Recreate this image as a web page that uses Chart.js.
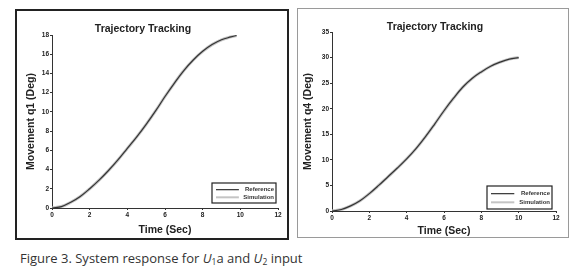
<!DOCTYPE html>
<html>
<head>
<meta charset="utf-8">
<script src="https://cdn.jsdelivr.net/npm/chart.js@4"></script>
<style>
    body { margin: 0; background: #fff; width: 575px; height: 272px; position: relative; overflow: hidden; }
    .panel { position: absolute; box-sizing: border-box; background: #fff; }
    #panelLeft { left: 15px; top: 9px; width: 274px; height: 231px; border: 2px solid #222; }
    #panelRight { left: 297px; top: 8px; width: 272px; height: 230px; border: 1px solid #9a9a9a; }
    canvas { display: block; }
    #caption {
        position: absolute; left: 20px; top: 249px; margin: 0;
        font-family: "Open Sans", sans-serif; font-size: 13px; color: #333; white-space: nowrap;
    }
    #caption sub { font-size: 8.5px; vertical-align: -2px; }
</style>
</head>
<body>
<div class="panel" id="panelLeft"><canvas id="chartQ1" width="270" height="227"></canvas></div>
<div class="panel" id="panelRight"><canvas id="chartQ4" width="270" height="228"></canvas></div>
<p id="caption">Figure 3. System response for <i>U</i><sub>1</sub>a and <i>U</i><sub>2</sub> input</p>

<script>
// Values
const timeQ1 = [0, 0.5, 1, 1.5, 2, 2.5, 3, 3.5, 4, 4.5, 5, 5.5, 6, 6.5, 7, 7.5, 8, 8.5, 9, 9.5, 9.8];
const q1Reference = [0, 0.15, 0.6, 1.2, 2.0, 2.9, 3.9, 5.0, 6.2, 7.4, 8.7, 10.1, 11.6, 13.0, 14.3, 15.4, 16.3, 17.0, 17.5, 17.8, 17.95];
const q1Simulation = [0, 0.15, 0.6, 1.2, 2.0, 2.9, 3.9, 5.0, 6.2, 7.4, 8.7, 10.1, 11.6, 13.0, 14.3, 15.4, 16.3, 17.0, 17.5, 17.8, 17.95];

const timeQ4 = [0, 0.5, 1, 1.5, 2, 2.5, 3, 3.5, 4, 4.5, 5, 5.5, 6, 6.5, 7, 7.5, 8, 8.5, 9, 9.5, 10];
const q4Reference = [0, 0.3, 1.0, 2.0, 3.4, 5.0, 6.7, 8.4, 10.2, 12.2, 14.5, 17.0, 19.6, 22.0, 24.2, 25.9, 27.2, 28.3, 29.1, 29.7, 30.0];
const q4Simulation = [0, 0.3, 1.0, 2.0, 3.4, 5.0, 6.7, 8.4, 10.2, 12.2, 14.5, 17.0, 19.6, 22.0, 24.2, 25.9, 27.2, 28.3, 29.1, 29.7, 30.0];

const seriesNames = ['Reference', 'Simulation'];
const timeTicks = [0, 2, 4, 6, 8, 10, 12];

function toPoints(xs, ys) {
    return xs.map((x, i) => ({ x: x, y: ys[i] }));
}

// title + inset legend drawn on the canvas, MATLAB style
const matlabDecor = {
    id: 'matlabDecor',
    afterDraw(chart, args, opts) {
        const {ctx, chartArea} = chart;
        ctx.save();
        ctx.fillStyle = '#222';
        ctx.font = 'bold 10.5px "Liberation Sans", Arial, sans-serif';
        ctx.textAlign = 'center';
        ctx.textBaseline = 'middle';
        ctx.fillText(opts.title, opts.titleX, opts.titleY);

        // legend box
        const w = opts.legendW, h = opts.legendH;
        const x0 = chartArea.right - opts.legendRight - w;
        const y0 = chartArea.bottom - opts.legendBottom - h;
        ctx.fillStyle = '#fff';
        ctx.fillRect(x0, y0, w, h);
        ctx.strokeStyle = '#222';
        ctx.lineWidth = 1.2;
        ctx.strokeRect(x0, y0, w, h);

        const rows = [
            { label: seriesNames[0], color: '#333', width: 1.2 },
            { label: seriesNames[1], color: '#c4c4c4', width: 2 }
        ];
        ctx.font = 'bold 6px "Liberation Sans", Arial, sans-serif';
        ctx.textAlign = 'right';
        rows.forEach((r, i) => {
            const yy = y0 + h * (i + 1) / 3 + (i === 0 ? 0 : 1);
            ctx.strokeStyle = r.color;
            ctx.lineWidth = r.width;
            ctx.beginPath();
            ctx.moveTo(x0 + 4, yy);
            ctx.lineTo(x0 + w * 0.42, yy);
            ctx.stroke();
            ctx.fillStyle = '#333';
            ctx.fillText(r.label, x0 + w - 2, yy);
        });
        ctx.restore();
    }
};

function makeChart(canvasId, times, refVals, simVals, yMax, yStep, yTitle, geo) {
    const ctx = document.getElementById(canvasId).getContext('2d');
    const tickFont = { family: '"Liberation Sans", Arial, sans-serif', size: 6.5, weight: 'bold' };
    const axisFont = { family: '"Liberation Sans", Arial, sans-serif', size: 10.5, weight: 'bold' };
    return new Chart(ctx, {
        type: 'line',
        data: {
            datasets: [
                {
                    label: seriesNames[0],
                    data: toPoints(times, refVals),
                    borderColor: '#333',
                    borderWidth: 1.2,
                    pointRadius: 0,
                    tension: 0.4,
                    order: 0
                },
                {
                    label: seriesNames[1],
                    data: toPoints(times, simVals),
                    borderColor: '#c4c4c4',
                    borderWidth: 3,
                    pointRadius: 0,
                    tension: 0.4,
                    order: 1
                }
            ]
        },
        options: {
            responsive: false,
            animation: false,
            layout: { padding: { top: geo.top, right: geo.right, left: 0, bottom: 0 } },
            plugins: {
                legend: { display: false },
                tooltip: { enabled: false },
                matlabDecor: geo.decor
            },
            scales: {
                x: {
                    type: 'linear',
                    min: 0,
                    max: 12,
                    afterBuildTicks: (axis) => { axis.ticks = timeTicks.map(v => ({ value: v })); },
                    afterFit: (axis) => { axis.height = geo.xHeight; },
                    grid: { display: true, drawOnChartArea: false, tickLength: 2, color: '#333' },
                    border: { display: true, color: '#333', width: 1 },
                    ticks: { font: tickFont, color: '#222', padding: 1, maxRotation: 0 },
                    title: { display: true, text: 'Time (Sec)', font: axisFont, color: '#222', padding: { top: 0, bottom: geo.xTitlePad } }
                },
                y: {
                    min: 0,
                    max: yMax,
                    afterFit: (axis) => { axis.width = geo.yWidth; },
                    grid: { display: true, drawOnChartArea: false, tickLength: 2, color: '#333' },
                    border: { display: true, color: '#333', width: 1 },
                    ticks: { stepSize: yStep, font: tickFont, color: '#222', padding: 1 },
                    title: { display: true, text: yTitle, font: axisFont, color: '#222', padding: { top: geo.yTitlePad, bottom: 0 } }
                }
            }
        },
        plugins: [matlabDecor]
    });
}

makeChart('chartQ1', timeQ1, q1Reference, q1Simulation, 18, 2, 'Movement q1 (Deg)', {
    top: 24, right: 9, xHeight: 30, yWidth: 35, xTitlePad: 2, yTitlePad: 8,
    decor: { title: 'Trajectory Tracking', titleX: 126, titleY: 18,
             legendW: 64, legendH: 20, legendRight: 2, legendBottom: 5 }
});

makeChart('chartQ4', timeQ4, q4Reference, q4Simulation, 35, 5, 'Movement q4 (Deg)', {
    top: 23, right: 12, xHeight: 26, yWidth: 34, xTitlePad: 0, yTitlePad: 4,
    decor: { title: 'Trajectory Tracking', titleX: 137, titleY: 18,
             legendW: 65, legendH: 23, legendRight: 4, legendBottom: 2 }
});
</script>
</body>
</html>
